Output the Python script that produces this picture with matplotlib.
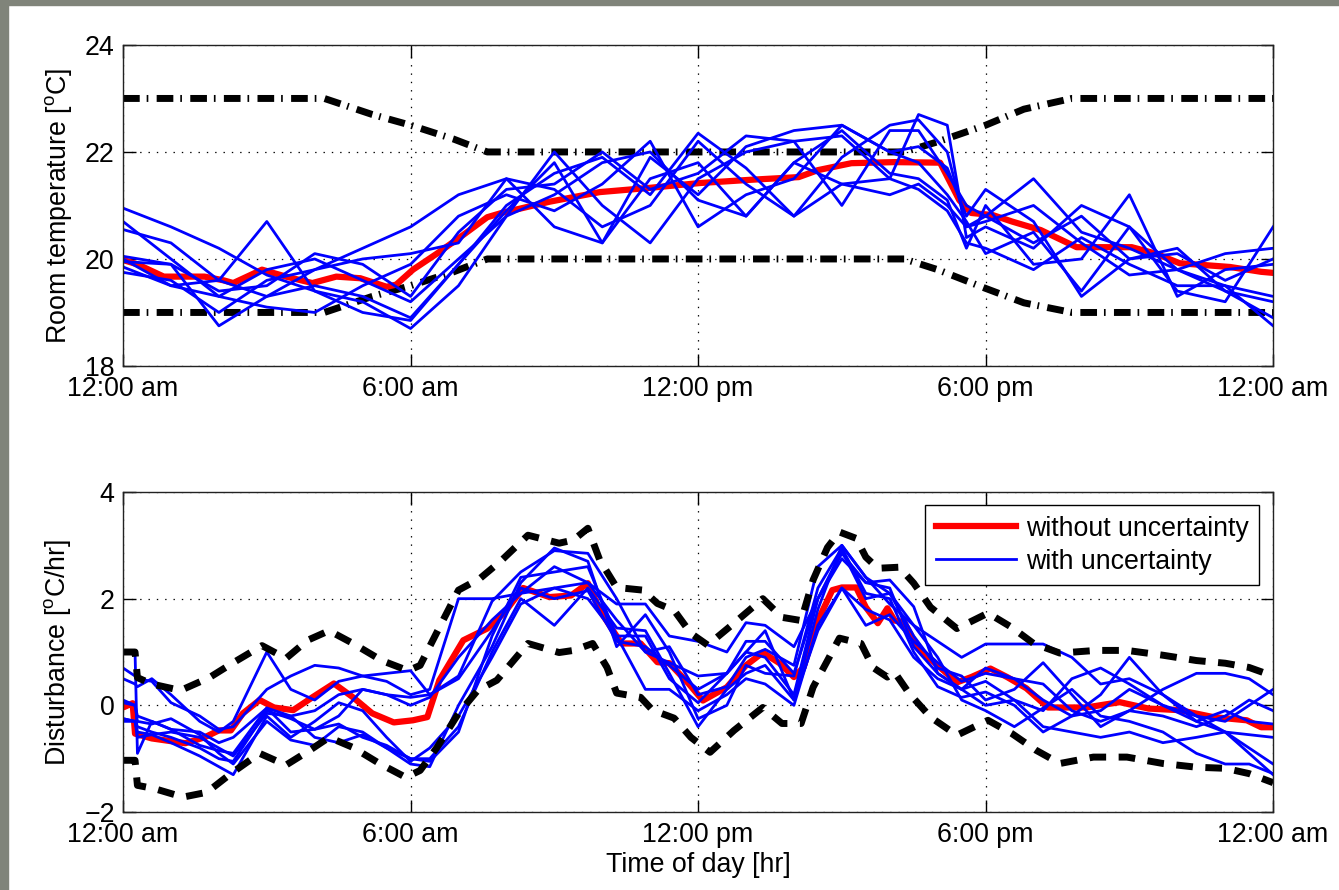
import numpy as np
import matplotlib
matplotlib.use('Agg')
import matplotlib.pyplot as plt
from matplotlib.patches import Rectangle

plt.rcParams['font.family'] = ['Liberation Sans', 'DejaVu Sans']
plt.rcParams['mathtext.fontset'] = 'custom'
plt.rcParams['mathtext.rm'] = 'Liberation Sans'
plt.rcParams['lines.scale_dashes'] = False

# ---- data -------------------------------------------------------------
xtick_pos = [0, 6, 12, 18, 24]
xtick_labels = ['12:00 am', '6:00 am', '12:00 pm', '6:00 pm', '12:00 am']

# comfort band (top panel)
t_band = [0, 4.2, 5.2, 6.0, 6.9, 7.6, 16.3, 17.0, 18.0, 18.8, 19.8, 24]
temp_upper = [23, 23, 22.7, 22.5, 22.24, 22, 22, 22.19, 22.5, 22.8, 23, 23]
temp_lower = [19, 19, 19.3, 19.5, 19.76, 20, 20, 19.8, 19.45, 19.18, 19, 19]

# nominal room temperature (without uncertainty)
t_temp_nom = [0, 0.3, 0.85, 1.7, 2.1, 2.3, 2.9, 3.4, 3.95, 4.45, 4.95, 5.5, 5.7, 6.05,
              6.55, 7.1, 7.6, 7.9, 8.9, 9.95, 11.0, 12.05, 13.1, 14.1, 14.5, 15.2, 16.1,
              17.05, 17.45, 17.7, 18.15, 18.55, 19.15, 19.9, 21.05, 21.55, 22.05, 23.1,
              23.75, 24]
temp_nom = [19.98, 19.9, 19.67, 19.67, 19.6, 19.55, 19.8, 19.67, 19.55, 19.67, 19.64,
            19.48, 19.52, 19.8, 20.1, 20.45, 20.78, 20.86, 21.07, 21.25, 21.33, 21.42,
            21.48, 21.53, 21.66, 21.79, 21.81, 21.8, 21.1, 20.86, 20.82, 20.7, 20.54,
            20.22, 20.22, 20.1, 19.92, 19.85, 19.76, 19.74]

# room temperature with uncertainty (8 runs)
t_temp = [0, 1, 2, 3, 4, 5, 6, 7, 8, 9, 10, 11, 12, 13, 14, 15, 16, 16.6, 17.2, 17.6,
          18, 19, 20, 21, 22, 23, 24]
temp_run1 = [20.95, 20.6, 20.2, 19.7, 19.4, 19.0, 18.85, 19.9, 21.0, 21.6, 21.9, 21.2, 22.35,
             21.7, 20.8, 21.9, 22.5, 22.6, 22.0, 20.6, 20.8, 21.5, 20.5, 20.2, 19.8, 19.5, 18.75]
temp_run2 = [20.7, 20.0, 19.3, 19.8, 20.0, 19.6, 19.2, 20.0, 20.8, 22.0, 21.0, 20.3, 21.5,
             22.0, 22.2, 22.3, 21.5, 22.7, 22.5, 20.4, 20.6, 20.2, 21.0, 20.6, 19.8, 19.4, 19.2]
temp_run3 = [20.55, 20.3, 19.6, 19.3, 19.8, 20.2, 20.6, 21.2, 21.5, 20.6, 20.3, 21.9, 21.2,
             22.1, 22.4, 22.5, 22.0, 21.8, 21.2, 20.7, 20.1, 20.5, 19.4, 20.6, 19.4, 19.2, 20.6]
temp_run4 = [20.05, 19.9, 18.75, 19.3, 19.5, 19.3, 18.9, 19.9, 20.9, 21.8, 20.3, 21.5, 21.8,
             20.8, 21.8, 22.4, 21.6, 21.5, 21.1, 20.2, 21.0, 19.9, 20.0, 21.2, 19.3, 19.8, 19.9]
temp_run5 = [20.0, 19.5, 19.6, 20.7, 19.4, 19.2, 18.7, 19.5, 20.8, 21.2, 21.8, 22.0, 21.1,
             20.8, 21.8, 21.4, 21.2, 21.4, 21.0, 20.6, 20.7, 21.0, 20.3, 19.7, 19.8, 20.1, 20.2]
temp_run6 = [19.95, 19.9, 19.4, 19.5, 20.1, 19.9, 19.3, 20.5, 21.3, 21.4, 22.0, 21.3, 21.6,
             22.3, 22.2, 21.0, 22.4, 22.4, 21.6, 21.0, 20.8, 20.3, 20.8, 20.0, 20.1, 19.6, 20.0]
temp_run7 = [19.85, 19.5, 19.3, 19.1, 19.0, 19.5, 19.9, 20.8, 21.2, 20.9, 21.4, 22.2, 20.6,
             21.2, 21.5, 22.5, 22.0, 22.1, 21.7, 20.8, 21.3, 20.7, 19.3, 20.0, 20.2, 19.4, 18.9]
temp_run8 = [19.75, 19.6, 19.0, 19.6, 19.8, 20.0, 20.1, 20.3, 21.5, 21.3, 20.6, 21.0, 22.2,
             21.4, 20.8, 21.4, 21.5, 21.3, 20.9, 20.3, 20.2, 19.8, 20.4, 19.9, 19.5, 19.5, 19.3]

# disturbance bounds (bottom panel)
t_dist_up = [0, 0.25, 0.3, 0.6, 1.2, 1.8, 2.3, 2.9, 3.4, 3.85, 4.3, 4.8, 5.4, 5.95, 6.2,
             6.6, 7.0, 7.45, 7.9, 8.45, 9.1, 9.4, 9.7, 9.95, 10.3, 10.85, 11.15, 11.5, 11.85,
             12.2, 12.75, 13.35, 13.75, 14.15, 14.4, 14.7, 14.95, 15.3, 15.5, 15.75, 16.2,
             16.5, 16.85, 17.4, 18.05, 18.55, 19.0, 19.55, 20.3, 20.95, 21.7, 22.4, 23.0,
             23.5, 24.0]
dist_upper = [1.0, 1.0, 0.52, 0.4, 0.28, 0.52, 0.8, 1.12, 0.88, 1.22, 1.4, 1.16, 0.84, 0.65,
              0.75, 1.46, 2.16, 2.38, 2.72, 3.19, 3.04, 3.1, 3.32, 2.72, 2.21, 2.16, 1.91,
              1.78, 1.35, 1.13, 1.54, 2.0, 1.65, 1.59, 2.35, 2.96, 3.25, 3.13, 2.78, 2.57,
              2.59, 2.29, 1.84, 1.44, 1.73, 1.46, 1.16, 0.98, 1.03, 1.03, 0.94, 0.84, 0.79,
              0.71, 0.55]
t_dist_lo = [0, 0.25, 0.3, 0.65, 1.25, 1.75, 2.25, 2.85, 3.4, 3.9, 4.3, 4.8, 5.35, 5.9, 6.2,
             6.55, 7.0, 7.4, 7.8, 8.45, 9.1, 9.4, 9.8, 10.1, 10.3, 10.8, 11.05, 11.5, 11.85,
             12.25, 12.75, 13.35, 13.75, 14.15, 14.4, 14.7, 14.95, 15.4, 15.65, 15.95, 16.1,
             16.4, 16.85, 17.4, 18.05, 18.55, 19.05, 19.55, 20.25, 20.95, 21.7, 22.4, 23.0,
             23.5, 24.0]
dist_lower = [-1.03, -1.03, -1.5, -1.56, -1.72, -1.63, -1.28, -0.9, -1.12, -0.84, -0.6, -0.79,
              -1.09, -1.35, -1.22, -0.79, -0.15, 0.28, 0.47, 1.16, 0.99, 1.03, 1.16, 0.71,
              0.23, 0.15, -0.09, -0.24, -0.6, -0.88, -0.47, -0.04, -0.34, -0.34, 0.34, 0.84,
              1.26, 1.16, 0.71, 0.53, 0.62, 0.23, -0.22, -0.56, -0.28, -0.53, -0.84, -1.09,
              -0.97, -0.97, -1.09, -1.16, -1.18, -1.28, -1.45]

# nominal disturbance
t_dist_nom = [0, 0.2, 0.25, 0.6, 1.3, 1.7, 2.0, 2.25, 2.5, 2.85, 3.15, 3.55, 3.95, 4.4, 4.8,
              5.2, 5.65, 6.05, 6.35, 6.6, 7.1, 7.6, 7.95, 8.35, 8.9, 9.35, 9.7, 9.95, 10.4,
              10.8, 11.15, 11.4, 11.8, 12.1, 12.6, 13.0, 13.35, 13.7, 14.0, 14.2, 14.5, 14.8,
              15.0, 15.3, 15.5, 15.75, 15.95, 16.1, 16.3, 16.5, 16.7, 17.05, 17.4, 17.7,
              18.1, 18.45, 18.85, 19.3, 20.1, 20.8, 21.4, 22.05, 22.75, 23.45, 23.75, 24]
dist_nom = [-0.04, 0.04, -0.53, -0.62, -0.71, -0.6, -0.47, -0.47, -0.15, 0.1, -0.04, -0.09,
            0.15, 0.41, 0.15, -0.15, -0.32, -0.28, -0.22, 0.47, 1.22, 1.44, 1.73, 2.2, 2.03,
            2.06, 2.29, 1.78, 1.16, 1.16, 0.81, 0.79, 0.41, 0.09, 0.34, 0.75, 0.99, 0.79,
            0.53, 0.71, 1.59, 2.16, 2.21, 2.21, 1.84, 1.54, 1.82, 1.59, 1.56, 1.22, 0.98,
            0.71, 0.43, 0.53, 0.69, 0.53, 0.32, -0.04, -0.04, 0.06, -0.06, -0.09, -0.22,
            -0.28, -0.41, -0.41]

# disturbance with uncertainty (8 runs)
t_dist = [0, 0.25, 0.3, 0.6, 1.0, 1.6, 2.0, 2.3, 3.0, 3.5, 4.0, 4.5, 5.0, 5.5, 6.0, 6.4,
          7.0, 7.7, 8.3, 9.0, 9.7, 10.3, 10.9, 11.4, 12.0, 12.6, 13.0, 13.4, 14.0, 14.5,
          15.0, 15.5, 16.0, 16.5, 17.0, 17.5, 18.0, 18.6, 19.2, 19.8, 20.4, 21.0, 21.7,
          22.4, 23.0, 23.5, 24]
dist_run1 = [1.0, 1.0, -0.9, -0.3, -0.45, -0.75, -0.85, -0.9, -0.05, -0.5, -0.45, -0.2, 0.3,
             0.2, 0.15, 0.2, 0.5, 1.4, 2.2, 2.0, 2.15, 1.2, 1.1, 0.75, 0.3, 0.6, 1.0, 1.4,
             0.1, 1.4, 2.2, 1.5, 1.7, 1.2, 0.8, 0.45, 0.6, 0.5, 0.1, -0.2, -0.1, 0.3, 0.0,
             -0.3, -0.1, -0.3, -0.35]
dist_run2 = [0.7, 0.55, 0.5, 0.45, 0.05, -0.2, -0.45, -0.4, 0.3, 0.55, 0.75, 0.7, 0.55, 0.6,
             0.65, 0.2, 0.55, 1.95, 2.5, 2.9, 2.85, 2.0, 1.0, 1.1, 0.2, 0.35, 0.9, 1.05, 0.75,
             2.6, 3.0, 2.4, 2.1, 1.5, 1.2, 0.9, 1.15, 1.15, 1.15, 0.9, 0.4, 0.5, 0.2, -0.2,
             -0.5, -0.55, -0.6]
dist_run3 = [0.5, 0.4, 0.35, 0.5, 0.2, -0.3, -0.5, -0.3, 1.0, 0.3, 0.1, 0.45, 0.55, 0.45,
             0.2, 0.3, 2.0, 2.0, 2.1, 2.2, 2.3, 1.9, 1.9, 1.3, 1.2, 1.0, 1.55, 1.5, 1.1, 2.0,
             2.75, 2.3, 2.35, 1.85, 0.6, 0.3, 0.7, 0.5, 0.4, -0.1, -0.3, -0.1, 0.3, 0.6, 0.6,
             0.5, 0.2]
dist_run4 = [0.1, 0.0, -0.2, -0.3, -0.45, -0.5, -0.7, -0.6, -0.05, -0.2, -0.6, -0.7, -0.55,
             -0.8, -1.0, -1.05, -0.5, 1.3, 2.4, 2.5, 2.6, 1.3, 1.3, 0.5, 0.05, 0.6, 1.2, 1.2,
             0.6, 2.0, 2.85, 2.3, 2.2, 1.1, 0.6, 0.3, 0.45, 0.1, -0.1, 0.5, 0.7, 0.4, 0.0,
             -0.2, -0.3, 0.0, 0.3]
dist_run5 = [0.05, 0.0, -0.3, -0.35, -0.25, -0.55, -0.9, -1.1, -0.3, -0.65, -0.75, -0.4,
             -0.5, -0.8, -1.1, -1.15, 0.0, 1.1, 2.3, 2.95, 2.7, 1.1, 1.7, 1.0, -0.25, 0.0,
             0.75, 0.6, 0.55, 2.2, 2.95, 2.1, 2.0, 1.0, 0.35, 0.15, 0.25, 0.0, -0.5, -0.2,
             0.2, 0.9, 0.2, -0.3, -0.5, -0.9, -1.3]
dist_run6 = [-0.25, -0.3, -0.4, -0.5, -0.6, -0.8, -1.0, -1.05, -0.1, -0.25, -0.45, -0.35,
             -0.6, -0.75, -1.0, -1.0, -0.4, 1.0, 2.0, 1.5, 2.2, 1.45, 1.4, 0.6, -0.4, 0.3,
             0.6, 0.75, 0.1, 1.8, 3.0, 2.4, 1.9, 1.5, 0.9, 0.1, -0.1, -0.4, -0.05, 0.3,
             -0.2, -0.3, -0.5, -0.9, -1.1, -1.1, -1.28]
dist_run7 = [-0.3, -0.3, -0.5, -0.55, -0.7, -0.95, -1.15, -1.3, -0.2, -0.6, -0.3, 0.05,
             -0.1, -0.6, -1.05, -0.8, -0.2, 0.9, 1.9, 2.2, 2.0, 1.3, 0.3, 0.3, -0.1, 0.2,
             0.5, 0.4, 0.0, 1.5, 2.2, 1.8, 1.6, 0.9, 0.5, 0.3, 0.0, 0.1, -0.4, -0.5, -0.6,
             -0.5, -0.7, -0.6, -0.5, -0.8, -1.1]
dist_run8 = [-0.25, -0.3, -0.6, -0.55, -0.5, -0.6, -0.8, -0.95, -0.15, -0.2, -0.1, 0.2, 0.3,
             0.2, 0.0, 0.15, 0.9, 1.6, 2.1, 2.6, 2.3, 1.6, 1.0, 0.8, 0.55, 0.6, 1.0, 0.9,
             0.2, 2.0, 2.9, 2.0, 2.1, 1.3, 0.7, 0.55, 0.1, 0.3, 0.8, 0.2, -0.4, -0.1, -0.2,
             -0.4, -0.2, 0.1, -0.1]

temp_runs = [temp_run1, temp_run2, temp_run3, temp_run4,
             temp_run5, temp_run6, temp_run7, temp_run8]
dist_runs = [dist_run1, dist_run2, dist_run3, dist_run4,
             dist_run5, dist_run6, dist_run7, dist_run8]

# ---- figure -----------------------------------------------------------
FS = 19.3
RED = '#ff0000'
BLUE = '#0000ff'

fig = plt.figure(figsize=(13.39, 8.9), dpi=100)
ax1 = fig.add_axes([0.0919, 0.5888, 0.8589, 0.3607])
ax2 = fig.add_axes([0.0919, 0.0876, 0.8589, 0.3596])

# top panel: room temperature
dashdot = (0, (12, 5, 1.2, 6))
ax1.plot(t_band, temp_upper, color='k', lw=5, linestyle=dashdot)
ax1.plot(t_band, temp_lower, color='k', lw=5, linestyle=dashdot)
ax1.plot(t_temp_nom, temp_nom, color=RED, lw=4.5)
for run in temp_runs:
    ax1.plot(t_temp, run, color=BLUE, lw=2.0)
ax1.set_ylim(18, 24)
ax1.set_yticks([18, 20, 22, 24])
ax1.set_ylabel('Room temperature [$^{\\rm o}$C]', fontsize=FS, labelpad=8)

# bottom panel: disturbance
ax2.plot(t_dist_nom, dist_nom, color=RED, lw=4.5, label='without uncertainty')
for i, run in enumerate(dist_runs):
    ax2.plot(t_dist, run, color=BLUE, lw=2.0,
             label='with uncertainty' if i == 0 else None)
ax2.plot(t_dist_up, dist_upper, color='k', lw=5, linestyle=(0, (12, 9)))
ax2.plot(t_dist_lo, dist_lower, color='k', lw=5, linestyle=(0, (12, 9)))
ax2.set_ylim(-2, 4)
ax2.set_yticks([-2, 0, 2, 4])
ax2.set_ylabel('Disturbance [$^{\\rm o}$C/hr]', fontsize=FS, labelpad=8)
ax2.set_xlabel('Time of day [hr]', fontsize=FS, labelpad=3)

leg = ax2.legend(loc='upper right', bbox_to_anchor=(0.9878, 0.959), fontsize=FS,
                 frameon=True, fancybox=False, edgecolor='k', framealpha=1,
                 handlelength=3.0, borderpad=0.4, labelspacing=0.25,
                 handletextpad=0.35, borderaxespad=0)
leg.get_frame().set_linewidth(1)

for ax in (ax1, ax2):
    ax.set_xlim(0, 24)
    ax.set_xticks(xtick_pos)
    ax.set_xticklabels(xtick_labels)
    ax.tick_params(direction='in', top=True, right=True, length=9, width=1,
                   labelsize=FS, pad=6)
    ax.tick_params(axis='x', pad=7)
    ax.grid(True, linestyle=(0, (1, 5)), color='k', linewidth=0.9)
    for sp in ax.spines.values():
        sp.set_linewidth(1)
        sp.set_color('#222222')

# grey slide frame at the top and left edge
fig.add_artist(Rectangle((0, 0), 8 / 1339, 1, transform=fig.transFigure,
                         color='#80847a', zorder=10))
fig.add_artist(Rectangle((0, 1 - 5 / 890), 1, 5 / 890, transform=fig.transFigure,
                         color='#80847a', zorder=10))

fig.savefig('out.png', dpi=100)
